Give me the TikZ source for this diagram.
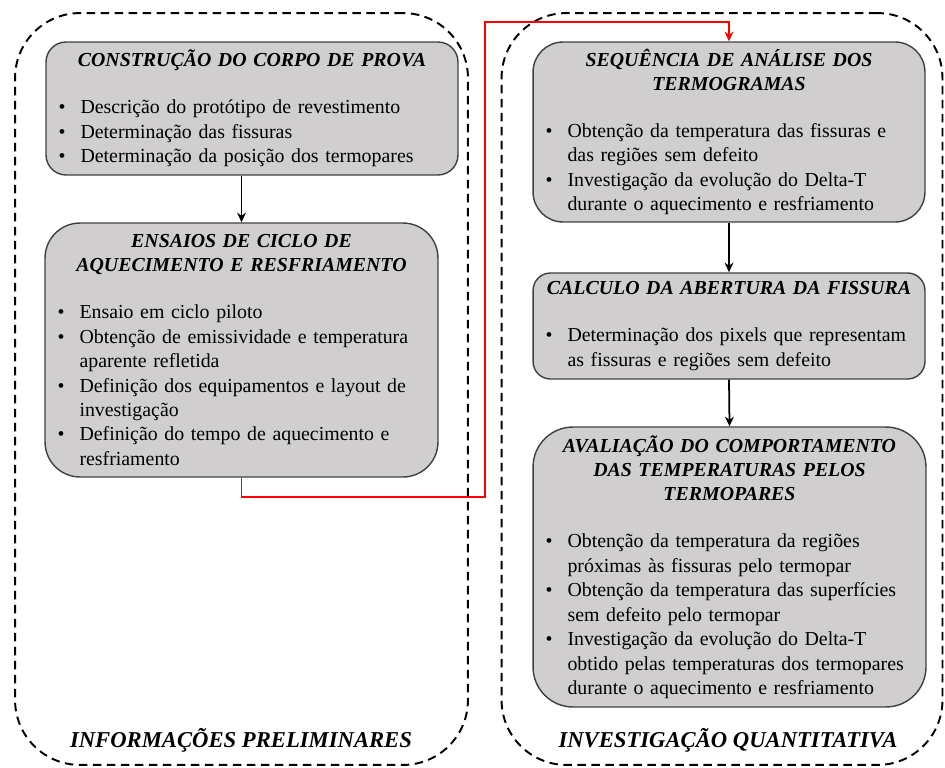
\documentclass[tikz,border=0pt]{standalone}
\usepackage{fontspec}
\setmainfont{Liberation Serif}
\usetikzlibrary{arrows.meta}
\definecolor{cinza}{HTML}{D0CECE}
\newcommand{\titulo}[1]{{\centering\fontsize{11.3}{13.9}\selectfont\bfseries\itshape #1\par}\vspace{0.45cm}}
\newcommand{\topico}[1]{\par\hangindent=0.44cm\hangafter=1\noindent\makebox[0.44cm][l]{\textbullet}#1\par}
\tikzset{
    etapa/.style={draw=black!75, line width=0.8pt, fill=cinza, align=left, inner xsep=0.25cm, inner ysep=2pt, font=\fontsize{11.3}{13.9}\selectfont},
    grupo/.style={draw, dash pattern=on 0.17cm off 0.11cm, line width=1.1pt, rounded corners=1.3cm},
    rotulo/.style={font=\fontsize{12.9}{15}\selectfont\bfseries\itshape},
    seta/.style={-{Stealth[length=5.5pt,width=5pt]}, line width=1pt},
    ligacao/.style={-{Stealth[length=5.5pt,width=5pt]}, line width=1.1pt, red}
}
\begin{document}
\begin{tikzpicture}[x=0.02cm,y=-0.02cm]
                \useasboundingbox (0,0) rectangle (945,767);
                \node[grupo, minimum width=9.06cm, minimum height=15.04cm] (preliminares) at (241.5,389) {};
                \node[grupo, minimum width=8.82cm, minimum height=15.04cm] (quantitativa) at (722,389) {};
                \node[rotulo] (rotprel) at (241,740) {INFORMAÇÕES PRELIMINARES};
                \node[rotulo] (rotquant) at (728,740) {INVESTIGAÇÃO QUANTITATIVA};

                \node[etapa, text width=7.74cm, minimum height=2.66cm, rounded corners=0.4cm] (construcao) at (252,108.5) {\titulo{CONSTRUÇÃO DO CORPO DE PROVA}\topico{Descrição do protótipo de revestimento}\topico{Determinação das fissuras}\topico{Determinação da posição dos termopares}};
                \node[etapa, text width=7.36cm, minimum height=5.08cm, rounded corners=0.7cm] (ensaios) at (241.5,350) {\titulo{ENSAIOS DE CICLO DE\\AQUECIMENTO E RESFRIAMENTO}\topico{Ensaio em ciclo piloto}\topico{Obtenção de emissividade e temperatura\newline aparente refletida}\topico{Definição dos equipamentos e layout de\newline investigação}\topico{Definição do tempo de aquecimento e\newline resfriamento}};
                \node[etapa, text width=7.34cm, minimum height=3.6cm, rounded corners=0.6cm] (sequencia) at (729,132) {\titulo{SEQUÊNCIA DE ANÁLISE DOS\\TERMOGRAMAS}\topico{Obtenção da temperatura das fissuras e\newline das regiões sem defeito}\topico{Investigação da evolução do Delta-T\newline durante o aquecimento e resfriamento}};
                \node[etapa, text width=7.34cm, minimum height=2.12cm, rounded corners=0.35cm] (calculo) at (729,326) {\titulo{CALCULO DA ABERTURA DA FISSURA}\topico{Determinação dos pixels que representam\newline as fissuras e regiões sem defeito}};
                \node[etapa, text width=7.36cm, minimum height=5.6cm, rounded corners=0.8cm] (avaliacao) at (729.5,567) {\titulo{AVALIAÇÃO DO COMPORTAMENTO\\DAS TEMPERATURAS PELOS\\TERMOPARES}\topico{Obtenção da temperatura da regiões\newline próximas às fissuras pelo termopar}\topico{Obtenção da temperatura das superfícies\newline sem defeito pelo termopar}\topico{Investigação da evolução do Delta-T\newline obtido pelas temperaturas dos termopares\newline durante o aquecimento e resfriamento}};

                \coordinate (desvio) at (485,497);
                \coordinate (topo) at (485,22);

                \draw[seta] (construcao.south -| ensaios.north) -- (ensaios.north);
                \draw[seta] (sequencia.south) -- (calculo.north);
                \draw[seta] (calculo.south) -- (avaliacao.north);
                \draw[ligacao] (ensaios.south) |- (desvio) -- (topo) -| (sequencia.north);
\end{tikzpicture}
\end{document}
